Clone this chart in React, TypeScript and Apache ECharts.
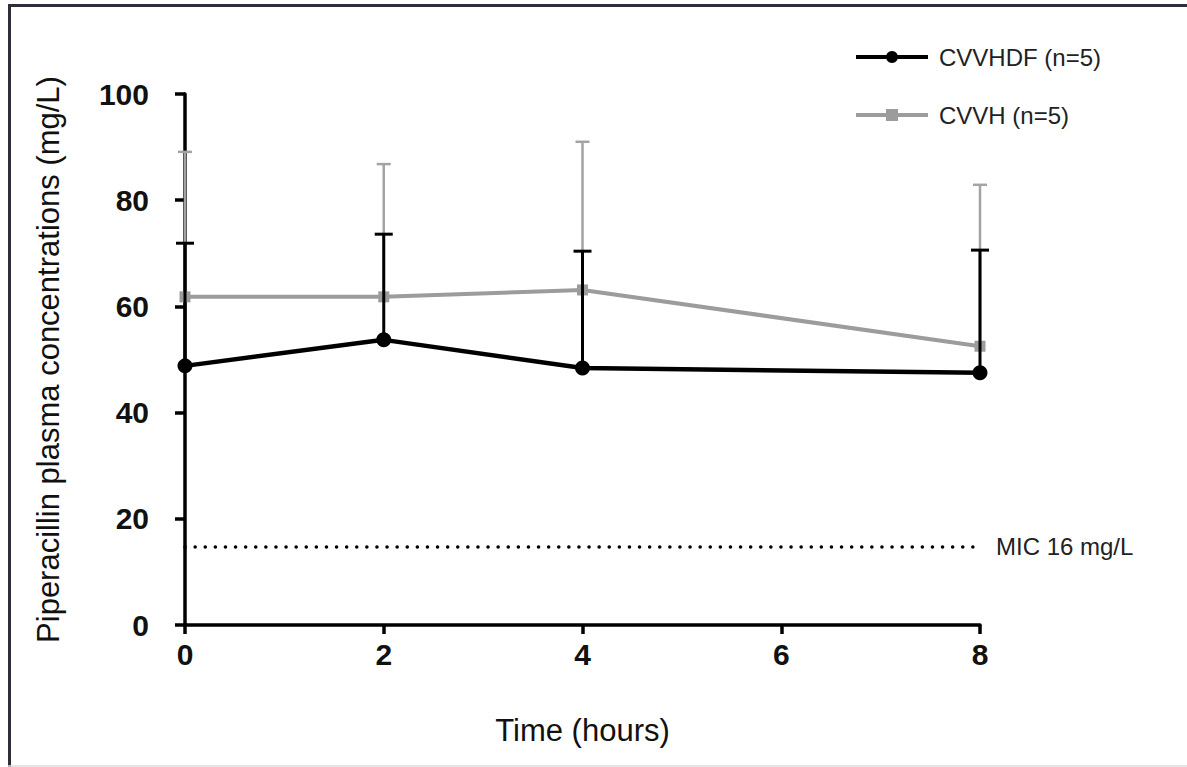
import React, { useEffect, useRef } from "react";
import * as echarts from "echarts";

const timePoints = [0, 2, 4, 8];
const cvvhdfMean = [48.8, 53.7, 48.4, 47.5];
const cvvhdfUpper = [71.9, 73.6, 70.4, 70.6];
const cvvhMean = [61.8, 61.8, 63.1, 52.5];
const cvvhUpper = [89.1, 86.8, 91.0, 82.9];
const micLevel = 14.7;
const micLabel = "MIC 16 mg/L";
const seriesNames = ["CVVHDF (n=5)", "CVVH (n=5)"];
const xTicks = [0, 2, 4, 6, 8];

const FONT = "'Liberation Sans', Arial, Helvetica, sans-serif";

function errorBarSeries(means: number[], uppers: number[], color: string, width: number, cap: number, z: number) {
  return {
    type: "custom",
    z,
    silent: true,
    data: timePoints.map((t, i) => [t, means[i], uppers[i]]),
    renderItem: (params: any, api: any) => {
      const p0 = api.coord([api.value(0), api.value(1)]);
      const p1 = api.coord([api.value(0), api.value(2)]);
      return {
        type: "group",
        children: [
          {
            type: "line",
            shape: { x1: p0[0], y1: p0[1], x2: p1[0], y2: p1[1] },
            style: { stroke: color, lineWidth: width },
          },
          {
            type: "line",
            shape: { x1: p1[0] - cap, y1: p1[1], x2: p1[0] + cap, y2: p1[1] },
            style: { stroke: color, lineWidth: width },
          },
        ],
      };
    },
  };
}

export default function App() {
  const ref = useRef<HTMLDivElement>(null);
  useEffect(() => {
    if (!ref.current) return;
    const chart = echarts.init(ref.current, null, { renderer: "svg" });
    chart.setOption({
      animation: false,
      backgroundColor: "#ffffff",
      textStyle: { fontFamily: FONT },
      graphic: [
        { type: "line", shape: { x1: 9.5, y1: 5, x2: 9.5, y2: 767 }, style: { stroke: "#2e2e3a", lineWidth: 3 } },
        { type: "line", shape: { x1: 8, y1: 5.5, x2: 1187, y2: 5.5 }, style: { stroke: "#2e2e3a", lineWidth: 3 } },
        { type: "line", shape: { x1: 8, y1: 766, x2: 1187, y2: 766 }, style: { stroke: "#dddddd", lineWidth: 1.5 } },
      ],
      legend: {
        data: seriesNames,
        orient: "vertical",
        left: 849,
        top: 40,
        itemWidth: 72,
        itemHeight: 15,
        itemGap: 34,
        lineStyle: { width: 4 },
        textStyle: { fontSize: 24, lineHeight: 24, color: "#222", fontFamily: FONT, padding: [0, 0, 0, 6] },
      },
      grid: { left: 185, right: 207, top: 94, bottom: 142 },
      xAxis: {
        type: "value",
        min: 0,
        max: 8,
        interval: 2,
        name: "Time (hours)",
        nameLocation: "middle",
        nameGap: 90,
        nameTextStyle: { fontSize: 31, color: "#111", fontFamily: FONT },
        axisLine: { lineStyle: { color: "#000", width: 3.5 } },
        axisTick: { length: 9, lineStyle: { color: "#000", width: 3.5 } },
        axisLabel: {
          fontSize: 30,
          fontWeight: "bold",
          color: "#111",
          margin: 14,
          formatter: (v: number) => (xTicks.includes(v) ? String(v) : ""),
        },
        splitLine: { show: false },
      },
      yAxis: {
        type: "value",
        min: 0,
        max: 100,
        interval: 20,
        name: "Piperacillin plasma concentrations (mg/L)",
        nameLocation: "middle",
        nameGap: 121,
        nameTextStyle: { fontSize: 31, color: "#111", fontFamily: FONT },
        axisLine: { show: true, lineStyle: { color: "#000", width: 3.5 } },
        axisTick: { show: true, length: 10, lineStyle: { color: "#000", width: 3.5 } },
        axisLabel: { fontSize: 30, fontWeight: "bold", color: "#111", margin: 36 },
        splitLine: { show: false },
      },
      series: [
        errorBarSeries(cvvhMean, cvvhUpper, "#a3a3a3", 2.5, 7, 2),
        {
          name: seriesNames[1],
          type: "line",
          z: 3,
          data: timePoints.map((t, i) => [t, cvvhMean[i]]),
          symbol: "rect",
          symbolSize: 11,
          itemStyle: { color: "#9c9c9c" },
          lineStyle: { color: "#9c9c9c", width: 4 },
        },
        errorBarSeries(cvvhdfMean, cvvhdfUpper, "#000000", 3, 9, 4),
        {
          name: seriesNames[0],
          type: "line",
          z: 5,
          data: timePoints.map((t, i) => [t, cvvhdfMean[i]]),
          symbol: "circle",
          symbolSize: 15,
          itemStyle: { color: "#000" },
          lineStyle: { color: "#000", width: 4.5 },
        },
        {
          name: "MIC",
          type: "line",
          z: 2,
          silent: true,
          data: [
            [0, micLevel],
            [8, micLevel],
          ],
          symbol: "none",
          lineStyle: { color: "#000", width: 3.5, type: [0.1, 10], cap: "round" },
          endLabel: {
            show: true,
            formatter: micLabel,
            distance: 16,
            fontSize: 24,
            color: "#222",
            fontFamily: FONT,
          },
        },
      ],
    });
    return () => chart.dispose();
  }, []);
  return <div ref={ref} style={{ position: "absolute", left: 0, top: 0, width: 1187, height: 767 }} />;
}
